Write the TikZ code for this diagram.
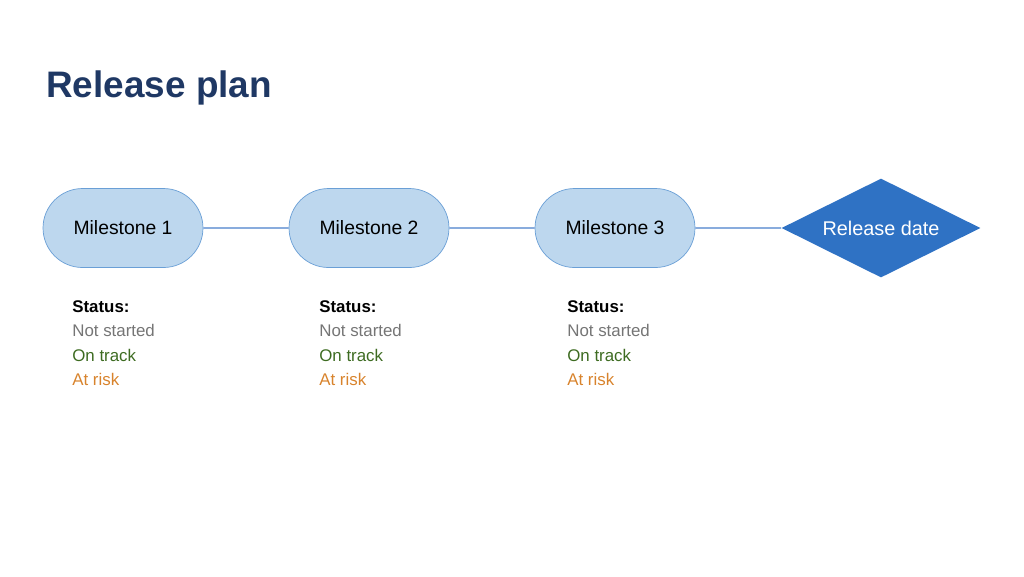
\documentclass[tikz,border=0pt]{standalone}
\usepackage{fontspec}
\setmainfont{Liberation Sans}
\usetikzlibrary{shapes.misc,shapes.geometric,positioning}
\definecolor{titleblue}{HTML}{1F3864}
\definecolor{pillfill}{HTML}{BDD7EE}
\definecolor{pilledge}{HTML}{6A9FD6}
\definecolor{linkblue}{HTML}{4A7FCB}
\definecolor{diafill}{HTML}{2F72C4}
\definecolor{greytxt}{HTML}{757575}
\definecolor{greentxt}{HTML}{3D6B21}
\definecolor{orangetxt}{HTML}{D8832C}

\begin{document}
\begin{tikzpicture}[x=0.02cm, y=-0.02cm,
  pill/.style={rounded rectangle, draw=pilledge, fill=pillfill, thin, minimum width=3.2cm, minimum height=1.58cm,
    inner sep=0pt, font=\fontsize{11}{13}\selectfont},
  release/.style={diamond, fill=diafill, shape aspect=2, minimum width=3.98cm, minimum height=1.98cm, inner sep=0pt,
    text=white, font=\fontsize{11.3}{13}\selectfont},
  link/.style={linkblue, line width=0.7pt},
  statbox/.style={anchor=north west, inner sep=0pt, align=left, font=\fontsize{9.6}{14}\selectfont}
]
  \useasboundingbox (0,0) rectangle (1024,576);

  \node[anchor=base west, inner sep=0pt, text=titleblue, font=\fontsize{21}{26}\selectfont\bfseries] (title) at (46,97) {Release plan};

  \node[pill] (ms1) at (123,228) {\raisebox{-1pt}{Milestone 1}};
  \node[pill] (ms2) at (369,228) {\raisebox{-1pt}{Milestone 2}};
  \node[pill] (ms3) at (615,228) {\raisebox{-1pt}{Milestone 3}};
  \node[release] (rel) at (881,228) {\raisebox{-1pt}{Release date}};

  \draw[link] (ms1) -- (ms2);
  \draw[link] (ms2) -- (ms3);
  \draw[link] (ms3) -- (rel);

  \node[statbox] (st1) at (72,300) {\textbf{Status:}\\\textcolor{greytxt}{Not started}\\\textcolor{greentxt}{On track}\\\textcolor{orangetxt}{At risk}};
  \node[statbox] (st2) at (319,300) {\textbf{Status:}\\\textcolor{greytxt}{Not started}\\\textcolor{greentxt}{On track}\\\textcolor{orangetxt}{At risk}};
  \node[statbox] (st3) at (567,300) {\textbf{Status:}\\\textcolor{greytxt}{Not started}\\\textcolor{greentxt}{On track}\\\textcolor{orangetxt}{At risk}};
\end{tikzpicture}
\end{document}
